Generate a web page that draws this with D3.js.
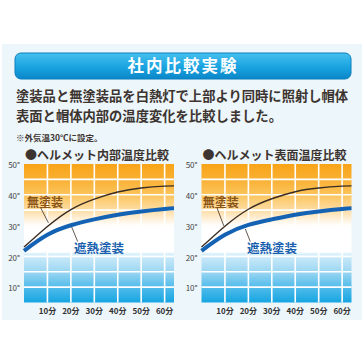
<!DOCTYPE html>
<html lang="ja">
<head>
<meta charset="UTF-8">
<title>社内比較実験</title>
<style>
    body { margin: 0; background: #fff; }
    svg { display: block; font-family: "Noto Sans CJK JP", "Noto Sans", sans-serif; }
</style>
</head>
<body>
<svg></svg>
<script src="https://d3js.org/d3.v7.min.js"></script>
<script>
    // 時間(分)と温度(℃)
    var minutes = [0, 10, 20, 30, 40, 50, 60, 64];
    var innerUncoated = [23.0, 29.7, 35.2, 38.6, 40.9, 42.2, 42.8, 42.9];
    var innerCoated = [21.8, 27.0, 30.1, 32.0, 33.5, 34.6, 35.4, 35.6];
    var surfaceUncoated = [23.0, 29.8, 35.3, 38.7, 41.0, 42.2, 42.8, 42.9];
    var surfaceCoated = [21.8, 27.0, 30.2, 32.0, 33.5, 34.6, 35.4, 35.6];

    var xTicks = [10, 20, 30, 40, 50, 60];
    var yTicks = [10, 20, 30, 40, 50];
    var gridTemps = [10, 15, 20, 25, 30, 35, 40, 45];
    var chartTitles = ["●ヘルメット内部温度比較", "●ヘルメット表面温度比較"];

    var width = 364, height = 364;
    var svg = d3.select("svg").attr("width", width).attr("height", height);

    var textColor = "#3d3430";

    // 背景パネル
    svg.append("rect")
        .attr("x", 2).attr("y", 44).attr("width", 360).attr("height", 276)
        .attr("fill", "#ecf6fb");

    var defs = svg.append("defs");
    var tg = defs.append("linearGradient").attr("id", "titleGrad")
        .attr("x1", 0).attr("y1", 0).attr("x2", 0).attr("y2", 1);
    tg.append("stop").attr("offset", "0%").attr("stop-color", "#45c0ef");
    tg.append("stop").attr("offset", "55%").attr("stop-color", "#1aa3e0");
    tg.append("stop").attr("offset", "100%").attr("stop-color", "#0a86c8");

    svg.append("rect")
        .attr("x", 15).attr("y", 53).attr("width", 336).attr("height", 26)
        .attr("rx", 6)
        .attr("fill", "url(#titleGrad)")
        .attr("stroke", "#0b7fbe").attr("stroke-width", 1);

    svg.append("text")
        .attr("x", 183).attr("y", 72)
        .attr("text-anchor", "middle")
        .attr("fill", "#fff")
        .style("font-size", "16.5px").style("font-weight", "bold")
        .style("letter-spacing", "2px")
        .text("社内比較実験");

    svg.append("text")
        .attr("x", 16).attr("y", 101)
        .attr("fill", textColor)
        .style("font-size", "13.3px").style("font-weight", "bold")
        .text("塗装品と無塗装品を白熱灯で上部より同時に照射し帽体");
    svg.append("text")
        .attr("x", 16).attr("y", 121)
        .attr("fill", textColor)
        .style("font-size", "13.3px").style("font-weight", "bold")
        .text("表面と帽体内部の温度変化を比較しました。");
    svg.append("text")
        .attr("x", 16).attr("y", 141)
        .attr("fill", textColor)
        .style("font-size", "8.5px").style("font-weight", "bold")
        .text("※外気温30℃に設定。");

    var yScale = d3.scaleLinear().domain([5, 50]).range([302.5, 164]);

    // 背景グラデーション(温度基準)
    var bg = defs.append("linearGradient").attr("id", "plotGrad")
        .attr("gradientUnits", "userSpaceOnUse")
        .attr("x1", 0).attr("x2", 0)
        .attr("y1", yScale(50)).attr("y2", yScale(5));
    var stops = [
        [50, "#f8a418"], [45, "#f9b033"], [40, "#fbc45c"], [35, "#fddda4"],
        [31, "#fff8ee"], [29, "#ffffff"], [21.5, "#ffffff"], [20.5, "#d0ecfa"],
        [15, "#9cd6f2"], [10, "#52bceb"], [5, "#16a5e1"]
    ];
    stops.forEach(function (s) {
        bg.append("stop")
            .attr("offset", ((50 - s[0]) / 45 * 100) + "%")
            .attr("stop-color", s[1]);
    });

    function drawChart(left, title, uncoated, coated, labels) {
        var xScale = d3.scaleLinear().domain([0, 64]).range([left, left + 150]);
        var g = svg.append("g");

        g.append("text")
            .attr("x", left + 1).attr("y", 160)
            .attr("fill", textColor)
            .style("font-size", "12px").style("font-weight", "bold")
            .text(title);

        g.append("rect")
            .attr("x", xScale(0)).attr("y", yScale(50))
            .attr("width", xScale(64) - xScale(0))
            .attr("height", yScale(5) - yScale(50))
            .attr("fill", "url(#plotGrad)");

        // 格子
        g.selectAll(".vgrid").data(xTicks).enter().append("line")
            .attr("x1", function (d) { return xScale(d); })
            .attr("x2", function (d) { return xScale(d); })
            .attr("y1", yScale(50)).attr("y2", yScale(5))
            .attr("stroke", "#fff").attr("stroke-width", 1.6);
        g.selectAll(".hgrid").data(gridTemps).enter().append("line")
            .attr("x1", xScale(0)).attr("x2", xScale(64))
            .attr("y1", function (d) { return yScale(d); })
            .attr("y2", function (d) { return yScale(d); })
            .attr("stroke", "#fff").attr("stroke-width", 1.6);

        // 目盛り
        g.selectAll(".ylab").data(yTicks).enter().append("text")
            .attr("x", xScale(0) - 4)
            .attr("y", function (d) { return yScale(d) + 1.5; })
            .attr("dy", "0.35em")
            .attr("text-anchor", "end")
            .attr("fill", "#444")
            .style("font-size", "8px")
            .text(function (d) { return d + "°"; });
        g.selectAll(".xlab").data(xTicks).enter().append("text")
            .attr("x", function (d) { return xScale(d); })
            .attr("y", 314)
            .attr("text-anchor", "middle")
            .attr("fill", "#333")
            .style("font-size", "8px").style("font-weight", "bold")
            .text(function (d) { return d + "分"; });

        var line = d3.line()
            .x(function (d, i) { return xScale(minutes[i]); })
            .y(function (d) { return yScale(d); })
            .curve(d3.curveNatural);

        g.append("path").datum(uncoated)
            .attr("d", line)
            .attr("fill", "none").attr("stroke", "#3a2c22").attr("stroke-width", 1.4);
        g.append("path").datum(coated)
            .attr("d", line)
            .attr("fill", "none").attr("stroke", "#1462b4").attr("stroke-width", 4);

        // 注記
        g.append("line")
            .attr("x1", xScale(labels.uLead[0])).attr("y1", yScale(labels.uLead[1]))
            .attr("x2", xScale(labels.uLead[2])).attr("y2", yScale(labels.uLead[3]))
            .attr("stroke", "#3a2c22").attr("stroke-width", 0.8);
        g.append("line")
            .attr("x1", xScale(labels.cLead[0])).attr("y1", yScale(labels.cLead[1]))
            .attr("x2", xScale(labels.cLead[2])).attr("y2", yScale(labels.cLead[3]))
            .attr("stroke", "#3a2c22").attr("stroke-width", 0.8);

        g.append("text")
            .attr("x", xScale(labels.u[0])).attr("y", yScale(labels.u[1]))
            .attr("fill", "#8a5418")
            .style("font-size", "12px").style("font-weight", "bold")
            .text("無塗装");
        g.append("text")
            .attr("x", xScale(labels.c[0])).attr("y", yScale(labels.c[1]))
            .attr("fill", "#1a5fae")
            .style("font-size", "12.5px").style("font-weight", "bold")
            .text("遮熱塗装");
    }

    drawChart(24, chartTitles[0], innerUncoated, innerCoated, {
        u: [1.3, 36.1], uLead: [7.1, 35.8, 10.4, 30.9],
        c: [21.3, 21.1], cLead: [20.3, 29.6, 22.9, 24.8]
    });
    drawChart(201.5, chartTitles[1], surfaceUncoated, surfaceCoated, {
        u: [0.5, 36.1], uLead: [6.6, 35.8, 9.5, 29.9],
        c: [19.4, 21.1], cLead: [18.7, 28.9, 20.8, 24.8]
    });
</script>
</body>
</html>
